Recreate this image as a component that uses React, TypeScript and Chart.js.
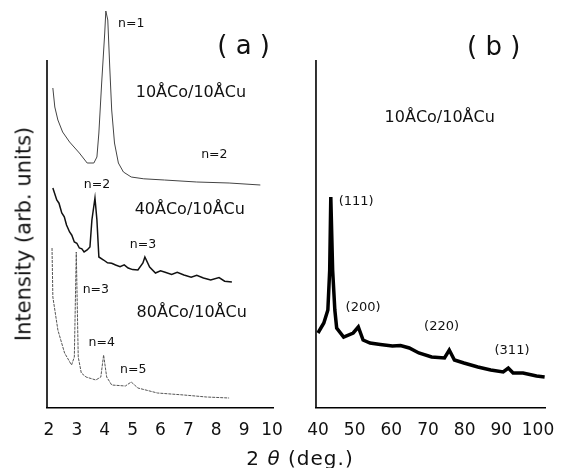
import React, { useEffect, useRef } from 'react';
import { Chart, registerables } from 'chart.js';
Chart.register(...registerables);

// ---- Panel (a): 2θ (deg.) vs intensity (arb. units, offset curves) ----
const a1X = [2.14, 2.21, 2.32, 2.49, 2.74, 3.09, 3.37, 3.61, 3.72, 3.79, 3.89, 4.0, 4.04, 4.11, 4.18, 4.25, 4.35, 4.49, 4.67, 4.95, 5.4, 6.14, 7.3, 8.46, 9.58];
const a1Y = [80, 75.25, 72, 69, 66.5, 63.75, 61.25, 61.25, 62.75, 68.75, 81.25, 93.75, 99.25, 97, 85.25, 74.5, 66.25, 61.25, 59, 57.75, 57.3, 57, 56.5, 56.25, 55.75];

const a2X = [2.14, 2.28, 2.36, 2.46, 2.55, 2.63, 2.74, 2.82, 2.91, 3.0, 3.09, 3.18, 3.26, 3.37, 3.47, 3.54, 3.65, 3.72, 3.79, 3.96, 4.1, 4.25, 4.39, 4.55, 4.7, 4.84, 5.0, 5.19, 5.37, 5.44, 5.61, 5.82, 6.0, 6.14, 6.4, 6.6, 6.84, 7.1, 7.3, 7.54, 7.8, 8.1, 8.3, 8.56];
const a2Y = [55, 52, 51.2, 48.75, 47.8, 45.75, 44, 43.2, 41.5, 41.2, 40, 39.8, 39, 39.5, 40.25, 47, 52.5, 47, 37.75, 37, 36.3, 36.2, 35.75, 35.3, 35.8, 35, 34.6, 34.5, 36.25, 37.75, 35.25, 33.75, 34.3, 34, 33.4, 33.9, 33.25, 32.7, 33.2, 32.5, 32.0, 32.6, 31.7, 31.5];

const a3X = [2.11, 2.14, 2.32, 2.56, 2.81, 2.91, 2.98, 3.05, 3.16, 3.33, 3.68, 3.86, 3.96, 4.07, 4.25, 4.74, 4.95, 5.19, 5.89, 6.84, 7.65, 8.46];
const a3Y = [40, 27.75, 19.5, 13.75, 10.75, 12.75, 39, 12.75, 8.75, 7.75, 7, 7.75, 13.25, 7.75, 5.75, 5.5, 6.5, 5, 3.75, 3.25, 2.75, 2.5];

// ---- Panel (b) ----
const bX = [40.0, 41.6, 42.7, 43.2, 43.5, 44.0, 44.6, 45.1, 47.0, 49.6, 51.0, 52.3, 54.2, 57.0, 60.3, 62.5, 64.9, 67.5, 71.0, 74.5, 75.8, 77.2, 79.8, 83.6, 87.1, 90.5, 91.9, 93.2, 95.9, 99.6, 101.8];
const bY = [18.75, 21.25, 24.5, 34.5, 52.75, 34.5, 24.5, 20, 17.75, 18.75, 20.25, 17, 16.25, 15.9, 15.5, 15.6, 15, 13.75, 12.75, 12.5, 14.5, 12, 11.25, 10.25, 9.5, 9, 10, 8.75, 8.75, 8, 7.75];

const ticksA = [2, 3, 4, 5, 6, 7, 8, 9, 10];
const ticksB = [40, 50, 60, 70, 80, 90, 100];
const rangeA = [1.93, 10.07];
const rangeB = [39.46, 101.9];
const AXIS_TOP = 87;

const labelsA = [
  { text: 'n=1', x: 4.95, y: 96, size: 12.5 },
  { text: '( a )', x: 8.98, y: 90.25, size: 26 },
  { text: '10ÅCo/10ÅCu', x: 7.09, y: 78.75, size: 16 },
  { text: 'n=2', x: 7.93, y: 63.25, size: 12.5 },
  { text: 'n=2', x: 3.72, y: 55.75, size: 12.5 },
  { text: '40ÅCo/10ÅCu', x: 7.05, y: 49.5, size: 16 },
  { text: 'n=3', x: 5.37, y: 40.75, size: 12.5 },
  { text: 'n=3', x: 3.68, y: 29.5, size: 12.5 },
  { text: '80ÅCo/10ÅCu', x: 7.12, y: 23.75, size: 16 },
  { text: 'n=4', x: 3.89, y: 16.25, size: 12.5 },
  { text: 'n=5', x: 5.02, y: 9.5, size: 12.5 },
];
const labelsB = [
  { text: '( b )', x: 87.9, y: 90, size: 26 },
  { text: '10ÅCo/10ÅCu', x: 73.2, y: 72.5, size: 16 },
  { text: '(111)', x: 50.4, y: 51.5, size: 13 },
  { text: '(200)', x: 52.3, y: 25, size: 13 },
  { text: '(220)', x: 73.7, y: 20.25, size: 13 },
  { text: '(311)', x: 92.9, y: 14.25, size: 13 },
];

const FONT = '"DejaVu Sans", sans-serif';

const annotPlugin = {
  id: 'annot',
  afterDatasetsDraw(chart: any, _args: any, opts: any) {
    const { ctx, scales, chartArea } = chart;
    const x = scales.x, y = scales.y;
    ctx.save();
    ctx.fillStyle = '#111';
    ctx.textAlign = 'center';
    ctx.textBaseline = 'middle';
    for (const l of opts.items || []) {
      ctx.font = `${l.size}px ${FONT}`;
      ctx.fillText(l.text, x.getPixelForValue(l.x), y.getPixelForValue(l.y));
    }
    ctx.strokeStyle = '#000';
    ctx.lineWidth = 1.6;
    ctx.beginPath();
    ctx.moveTo(chartArea.left, y.getPixelForValue(AXIS_TOP));
    ctx.lineTo(chartArea.left, chartArea.bottom);
    ctx.stroke();
    ctx.restore();
  },
};

function pairs(xs: number[], ys: number[]) {
  return xs.map((v, i) => ({ x: v, y: ys[i] }));
}

function makeConfig(datasets: any[], range: number[], ticks: number[], labels: any[], padL: number, padR: number) {
  return {
    type: 'line' as const,
    data: { datasets },
    plugins: [annotPlugin],
    options: {
      animation: false,
      responsive: false,
      layout: { padding: { left: padL, right: padR, top: 8, bottom: 0 } },
      plugins: {
        legend: { display: false },
        tooltip: { enabled: false },
        annot: { items: labels },
      },
      elements: { point: { radius: 0 } },
      scales: {
        x: {
          type: 'linear',
          min: range[0],
          max: range[1],
          afterBuildTicks: (scale: any) => {
            scale.ticks = ticks.map((v) => ({ value: v }));
          },
          afterFit: (scale: any) => {
            scale.height = 60;
          },
          grid: { display: false, drawTicks: false },
          border: { display: true, color: '#000', width: 1.6 },
          ticks: {
            color: '#111',
            font: { family: FONT, size: 17 },
            padding: 12,
            maxRotation: 0,
            autoSkip: false,
          },
        },
        y: { type: 'linear', min: 0, max: 100, display: false },
      },
    },
  };
}

function Panel({ left, width, config }: { left: number; width: number; config: any }) {
  const ref = useRef<HTMLCanvasElement>(null);
  useEffect(() => {
    if (!ref.current) return;
    const chart = new Chart(ref.current, config);
    return () => chart.destroy();
  }, []);
  return (
    <canvas
      ref={ref}
      width={width}
      height={468}
      style={{ position: 'absolute', left, top: 0, width, height: 468, display: 'block' }}
    />
  );
}

export default function App() {
  const cfgA = makeConfig(
    [
      { data: pairs(a1X, a1Y), borderColor: '#444', borderWidth: 1, tension: 0 },
      { data: pairs(a2X, a2Y), borderColor: '#111', borderWidth: 1.5, tension: 0 },
      { data: pairs(a3X, a3Y), borderColor: '#555', borderWidth: 1, borderDash: [3, 1], tension: 0 },
    ],
    rangeA, ticksA, labelsA, 47, 16
  );
  const cfgB = makeConfig(
    [{ data: pairs(bX, bY), borderColor: '#000', borderWidth: 3.5, tension: 0 }],
    rangeB, ticksB, labelsB, 17, 32
  );
  return (
    <div style={{ position: 'absolute', left: 0, top: 0, width: 577, height: 468, background: '#fff', overflow: 'hidden' }}>
      <Panel left={0} width={295} config={cfgA} />
      <Panel left={295} width={282} config={cfgB} />
      <div
        style={{
          position: 'absolute', left: 24, top: 234, transform: 'translate(-50%, -50%) rotate(-90deg)',
          whiteSpace: 'nowrap', fontFamily: FONT, fontSize: 21, color: '#111', lineHeight: 1,
        }}
      >
        Intensity (arb. units)
      </div>
      <div
        style={{
          position: 'absolute', left: 300, top: 458, transform: 'translate(-50%, -50%)',
          whiteSpace: 'nowrap', fontFamily: FONT, fontSize: 20, color: '#111', lineHeight: 1, letterSpacing: 1,
        }}
      >
        2 <i>θ</i> (deg.)
      </div>
    </div>
  );
}
